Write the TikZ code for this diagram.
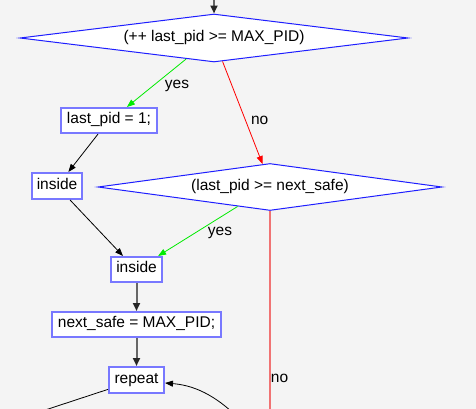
\documentclass[tikz,border=0pt]{standalone}
\usepackage{fontspec}
\setmainfont{Liberation Sans}
\usetikzlibrary{shapes.geometric,arrows.meta}
\definecolor{bgc}{HTML}{F4F4F4}
\definecolor{boxc}{RGB}{120,120,255}
\definecolor{dmc}{RGB}{30,30,255}
\definecolor{grn}{RGB}{0,235,0}
\definecolor{rdc}{RGB}{255,0,0}
\definecolor{lred}{RGB}{240,115,115}
\definecolor{thk}{RGB}{102,102,102}
\begin{document}
\begin{tikzpicture}[x=1pt,y=-1pt,
  every node/.style={font=\fontsize{15.5}{18}\selectfont, text height=0.905em, text depth=0.212em, inner sep=0pt},
  procbox/.style={draw=boxc, line width=2pt, fill=white, rectangle},
  decision/.style={draw=dmc, line width=1pt, fill=white, diamond, aspect=8},
  thinedge/.style={line width=0.8pt, -{Triangle[length=8pt,width=6pt]}},
  thickedge/.style={line width=2pt, draw=thk, -{Triangle[length=8pt,width=7pt,color=black!85]}},
  plainline/.style={line width=0.8pt}
]
\fill[bgc] (0,0) rectangle (476,409);
\useasboundingbox (0,0) rectangle (476,409);
\clip (0,0) rectangle (476,409);

% nodes
\node[decision, minimum width=388pt, minimum height=48pt] (d1) at (214,38) {(++ last\_pid >= MAX\_PID)};
\node[procbox, minimum width=96pt, minimum height=25pt] (b1) at (109,120.5) {last\_pid = 1;};
\node[procbox, minimum width=50pt, minimum height=26pt] (in1) at (57,186) {inside};
\node[decision, minimum width=344pt, minimum height=47pt] (d2) at (270,187) {(last\_pid >= next\_safe)};
\node[procbox, minimum width=51pt, minimum height=25pt] (in2) at (136.5,269.5) {inside};
\node[procbox, minimum width=169pt, minimum height=25pt] (ns) at (136.5,324.5) {next\_safe = MAX\_PID;};
\node[procbox, minimum width=55pt, minimum height=26pt] (rep) at (136.5,380) {repeat};

\coordinate (top) at (214,-5);
\coordinate (d2out) at (270,420);
\coordinate (lo) at (30,415);
\coordinate (ri) at (245,425);

% edges
\draw[thickedge] (top) -- (d1);
\draw[thinedge, draw=grn, -{Triangle[length=8pt,width=6pt,color=grn]}] (d1.217.6) -- (b1.37);
\draw[thinedge, draw=rdc, -{Triangle[length=8pt,width=6pt,color=rdc]}] (d1.290.6) -- (d2.108.4);
\draw[thinedge] (b1.231) -- (in1.51.8);
\draw[thinedge] (in1.313) -- (in2.135);
\draw[thinedge, draw=grn, -{Triangle[length=8pt,width=6pt,color=grn]}] (d2.211.5) -- (in2.32.1);
\draw[line width=2pt, draw=lred] (d2) -- (d2out);
\draw[thickedge] (in2) -- (ns);
\draw[thickedge] (ns) -- (rep);
\draw[plainline] (rep) -- (lo);
\draw[thinedge] (ri) .. controls (215,392) and (190,385) .. (rep.-6);

% labels
\node (ly1) at (177,85.1) {yes};
\node (ln1) at (259.7,121.1) {no};
\node (ly2) at (220,231.6) {yes};
\node (ln2) at (279.5,378.8) {no};
\end{tikzpicture}
\end{document}
